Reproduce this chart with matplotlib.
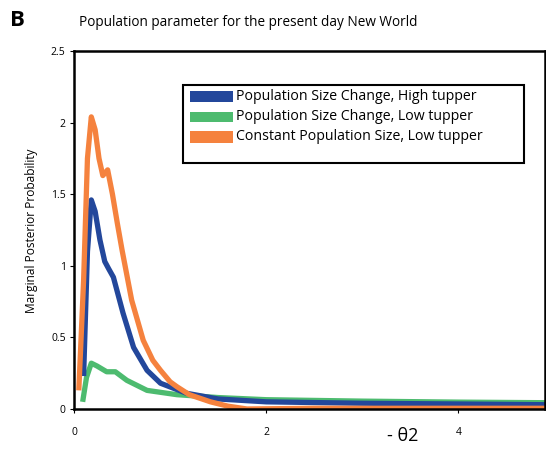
import matplotlib
matplotlib.use("Agg")
import matplotlib.pyplot as plt
from matplotlib.patches import Rectangle

plt.rcParams['font.family'] = ['Open Sans', 'DejaVu Sans']

# Data
blue_x = [0.10, 0.14, 0.18, 0.22, 0.27, 0.32, 0.36, 0.41, 0.51, 0.62, 0.76, 0.90, 1.17, 1.5, 2.0, 3.0, 4.0, 4.9]
blue_y = [0.23, 1.10, 1.46, 1.38, 1.18, 1.03, 0.98, 0.92, 0.67, 0.43, 0.27, 0.18, 0.11, 0.07, 0.05, 0.04, 0.035, 0.03]

green_x = [0.09, 0.13, 0.18, 0.24, 0.34, 0.43, 0.55, 0.76, 1.07, 1.5, 2.0, 3.0, 4.0, 4.9]
green_y = [0.05, 0.22, 0.32, 0.30, 0.26, 0.26, 0.20, 0.13, 0.10, 0.08, 0.065, 0.055, 0.048, 0.044]

orange_x = [0.05, 0.10, 0.14, 0.18, 0.22, 0.26, 0.30, 0.35, 0.40, 0.45, 0.50, 0.60, 0.72, 0.82, 0.90, 1.0, 1.07, 1.2, 1.42, 1.6, 1.8, 2.5, 4.9]
orange_y = [0.13, 0.90, 1.75, 2.04, 1.95, 1.75, 1.63, 1.67, 1.50, 1.30, 1.11, 0.76, 0.48, 0.34, 0.27, 0.19, 0.156, 0.10, 0.05, 0.02, 0.0, 0.005, 0.005]

series_labels = ["Population Size Change, High tupper",
                 "Population Size Change, Low tupper",
                 "Constant Population Size, Low tupper"]
series_colors = ["#23479b", "#4dbb6f", "#f5823e"]

yticks = [0, 0.5, 1, 1.5, 2, 2.5]
ytick_labels = ["0", "0.5", "1", "1.5", "2", "2.5"]
xticks = [0, 2, 4]
xtick_labels = ["0", "2", "4"]

W, H = 546, 449
fig = plt.figure(figsize=(W / 100, H / 100), dpi=100)

def fx(px):
    return px / W

def fy(py):
    return 1 - py / H

ax = fig.add_axes([fx(74), fy(409), fx(545) - fx(74), fy(51) - fy(409)])

ax.plot(green_x, green_y, color=series_colors[1], lw=3.8, solid_capstyle='butt', solid_joinstyle='round')
ax.plot(blue_x, blue_y, color=series_colors[0], lw=3.8, solid_capstyle='butt', solid_joinstyle='round')
ax.plot(orange_x, orange_y, color=series_colors[2], lw=3.8, solid_capstyle='butt', solid_joinstyle='round')

ax.set_xlim(0, 4.9)
ax.set_ylim(0, 2.5)
ax.set_yticks(yticks)
ax.set_yticklabels(ytick_labels, fontsize=7.5)
ax.set_xticks(xticks)
ax.set_xticklabels(xtick_labels, fontsize=7.5)
ax.tick_params(axis='y', length=3, width=0.8, pad=3)
ax.tick_params(axis='x', length=3, width=0.8, pad=10)
for s in ax.spines.values():
    s.set_linewidth(1.8)
    s.set_color('black')

# Legend box drawn manually
fig.patches.append(Rectangle((fx(183), fy(163)), fx(524) - fx(183), fy(85) - fy(163),
                             transform=fig.transFigure, fill=False, ec='black', lw=1.5))
rows = [(91, 101.5), (112, 122), (131, 143)]
for (t, b), lab, c in zip(rows, series_labels, series_colors):
    fig.patches.append(Rectangle((fx(190), fy(b)), fx(233) - fx(190), fy(t) - fy(b),
                                 transform=fig.transFigure, fc=c, ec='none'))
    fig.text(fx(236), fy((t + b) / 2), lab, fontsize=10.2, va='center', ha='left')

fig.text(fx(10), fy(20), "B", fontsize=16, fontweight='bold', va='center', ha='left')
fig.text(fx(79), fy(23), "Population parameter for the present day New World", fontsize=9.8, va='center', ha='left')
fig.text(fx(32), fy(231), "Marginal Posterior Probability", fontsize=8.6, rotation=90, va='center', ha='center')
fig.text(fx(403), fy(436), "- θ2", fontsize=13, va='center', ha='center')

fig.savefig("out.png", dpi=100)
